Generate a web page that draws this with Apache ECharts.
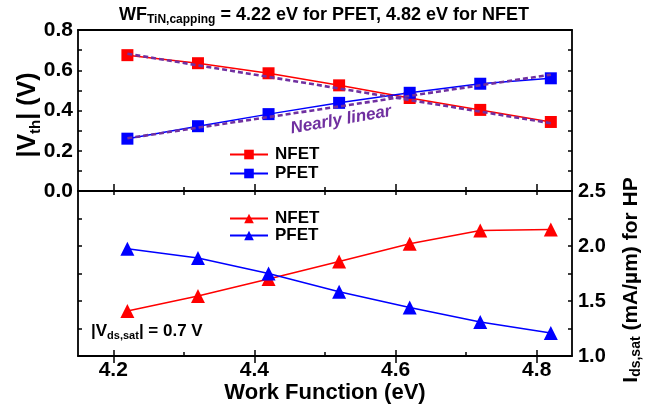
<!DOCTYPE html>
<html>
<head>
<meta charset="utf-8">
<script src="https://cdn.jsdelivr.net/npm/echarts@6/dist/echarts.min.js"></script>
<style>
  html, body { margin: 0; padding: 0; background: #fff; }
  #chart { width: 655px; height: 408px; }
</style>
</head>
<body>
<div id="chart"></div>
<script>
// Work function sweep (eV)
const workFunction = [4.22, 4.32, 4.42, 4.52, 4.62, 4.72, 4.82];

// |Vth| (V)
const vthNfet = [0.675, 0.635, 0.585, 0.525, 0.462, 0.403, 0.343];
const vthPfet = [0.260, 0.322, 0.382, 0.438, 0.488, 0.533, 0.560];

// Linear fits of |Vth| (end points)
const fitWorkFunction = [4.22, 4.82];
const vthNfetFit = [0.682, 0.337];
const vthPfetFit = [0.262, 0.578];

// Ids,sat (mA/um) for HP
const idsNfet = [1.41, 1.545, 1.70, 1.86, 2.02, 2.14, 2.15];
const idsPfet = [1.975, 1.89, 1.75, 1.585, 1.44, 1.31, 1.21];

// Tick labels
const wfTickLabels = [4.2, 4.4, 4.6, 4.8];
const vthTickLabels = [0.0, 0.2, 0.4, 0.6, 0.8];
const idsTickLabels = [1.0, 1.5, 2.0, 2.5];

const FONT = "'Liberation Sans', Arial, Helvetica, sans-serif";
const RED = '#ff0000';
const BLUE = '#0000ff';
const PURPLE = '#7030a0';

const pairs = (xs, ys) => xs.map((x, i) => [x, ys[i]]);
const pick = (list, digits) => v => list.some(t => Math.abs(t - v) < 1e-6) ? v.toFixed(digits) : '';

// Plot frame in pixels and work-function range it spans
const PLOT_LEFT = 78, PLOT_RIGHT = 572;
const WF_MIN = 4.15, WF_MAX = 4.85;
// Tick grids span exactly the first..last tick value so ticks start on a round number
const TICK_MIN = 4.2, TICK_MAX = 4.8;
const pxPerEv = (PLOT_RIGHT - PLOT_LEFT) / (WF_MAX - WF_MIN);
const tickLeft = PLOT_LEFT + (TICK_MIN - WF_MIN) * pxPerEv;
const tickRight = 655 - (PLOT_RIGHT - (WF_MAX - TICK_MAX) * pxPerEv);

const LINE = { show: true, onZero: false, lineStyle: { color: '#000', width: 1.8 } };

function frameX(grid, position) {
  return {
    type: 'value', gridIndex: grid, position: position, min: WF_MIN, max: WF_MAX,
    axisLine: LINE, axisTick: { show: false }, axisLabel: { show: false }, splitLine: { show: false }
  };
}

function tickX(grid, position, interval, len, label) {
  return {
    type: 'value', gridIndex: grid, position: position, min: TICK_MIN, max: TICK_MAX, interval: interval,
    axisLine: { show: false },
    axisTick: { show: true, inside: true, length: len, lineStyle: { color: '#000', width: 1.5 } },
    axisLabel: label ? Object.assign({ show: true, color: '#000', fontFamily: FONT, fontWeight: 'bold' }, label) : { show: false },
    splitLine: { show: false }
  };
}

function valAxis(grid, position, min, max, interval, labels) {
  return {
    type: 'value', gridIndex: grid, position: position,
    min: min, max: max, interval: interval,
    axisLine: LINE,
    axisTick: { show: true, inside: true, length: 4, lineStyle: { color: '#000', width: 1.5 } },
    axisLabel: labels ? Object.assign({ show: true, color: '#000', fontFamily: FONT, fontWeight: 'bold' }, labels) : { show: false },
    splitLine: { show: false }
  };
}

function hiddenY(grid) {
  return { type: 'value', gridIndex: grid, min: 0, max: 1, show: false };
}

function lineSeries(name, xi, yi, ys, color, symbol, size) {
  return {
    name: name, type: 'line', xAxisIndex: xi, yAxisIndex: yi,
    data: pairs(workFunction, ys),
    symbol: symbol, symbolSize: size,
    itemStyle: { color: color },
    lineStyle: { color: color, width: 1.5 },
    emphasis: { disabled: true },
    animation: false
  };
}

function fitSeries(name, ys) {
  return {
    name: name, type: 'line', xAxisIndex: 0, yAxisIndex: 0,
    data: pairs(fitWorkFunction, ys),
    symbol: 'none', z: 5,
    lineStyle: { color: PURPLE, width: 2.6, type: [5, 3] },
    emphasis: { disabled: true },
    animation: false
  };
}

const legendBase = {
  orient: 'vertical', left: 224, itemWidth: 38, itemHeight: 12, itemGap: 2,
  selectedMode: false,
  formatter: n => n.split('|')[0],
  textStyle: { fontFamily: FONT, fontWeight: 'bold', fontSize: 17, color: '#000', padding: [0, 0, 0, 2] }
};

const subRich = (main, sub, lh) => ({
  m: { fontFamily: FONT, fontWeight: 'bold', fontSize: main, lineHeight: lh, fill: '#000', color: '#000' },
  s: { fontFamily: FONT, fontWeight: 'bold', fontSize: sub, lineHeight: sub, verticalAlign: 'bottom', fill: '#000', color: '#000' }
});

const chart = echarts.init(document.getElementById('chart'), null, { renderer: 'canvas' });

chart.setOption({
  animation: false,
  backgroundColor: '#fff',
  grid: [
    { left: PLOT_LEFT, right: 655 - PLOT_RIGHT, top: 30, height: 161 },   // 0: |Vth| panel
    { left: PLOT_LEFT, right: 655 - PLOT_RIGHT, top: 191, height: 165 },  // 1: Ids,sat panel
    { left: tickLeft, right: tickRight, top: 30, height: 161 },           // 2: ticks of panel 0
    { left: tickLeft, right: tickRight, top: 191, height: 165 }           // 3: ticks of panel 1
  ],
  xAxis: [
    frameX(0, 'bottom'),                 // 0
    frameX(0, 'top'),                    // 1
    frameX(1, 'bottom'),                 // 2
    frameX(1, 'top'),                    // 3
    tickX(2, 'bottom', 0.2, 7),          // 4
    tickX(2, 'bottom', 0.1, 4),          // 5
    tickX(3, 'top', 0.2, 7),             // 6
    tickX(3, 'top', 0.1, 4),             // 7
    tickX(3, 'bottom', 0.2, 6, { margin: 4, fontSize: 21, formatter: pick(wfTickLabels, 1) }), // 8
    tickX(3, 'bottom', 0.1, 4)           // 9
  ],
  yAxis: [
    valAxis(0, 'left', 0, 0.8, 0.1, { margin: 5, fontSize: 21, formatter: pick(vthTickLabels, 1) }), // 0
    valAxis(0, 'right', 0, 0.8, 0.1, null),                                                           // 1
    valAxis(1, 'right', 1.0, 2.5, 0.25, { margin: 6, fontSize: 20, formatter: pick(idsTickLabels, 1) }), // 2
    valAxis(1, 'left', 1.0, 2.5, 0.25, null),                                                         // 3
    hiddenY(2),                                                                                        // 4
    hiddenY(3)                                                                                         // 5
  ],
  legend: [
    Object.assign({}, legendBase, { top: 141, data: ['NFET|Vth', 'PFET|Vth'] }),
    Object.assign({}, legendBase, { top: 205, itemGap: 0, data: ['NFET|Ids', 'PFET|Ids'] })
  ],
  series: [
    lineSeries('NFET|Vth', 0, 0, vthNfet, RED, 'rect', 12),
    lineSeries('PFET|Vth', 0, 0, vthPfet, BLUE, 'rect', 12),
    fitSeries('NFET fit', vthNfetFit),
    fitSeries('PFET fit', vthPfetFit),
    lineSeries('NFET|Ids', 2, 2, idsNfet, RED, 'triangle', 14),
    lineSeries('PFET|Ids', 2, 2, idsPfet, BLUE, 'triangle', 14)
  ],
  graphic: [
    {
      type: 'text', x: 119, y: 15,
      style: {
        text: '{m|WF}{s|TiN,capping}{m| = 4.22 eV for PFET, 4.82 eV for NFET}',
        rich: subRich(18, 12, 22), align: 'left', verticalAlign: 'middle'
      }
    },
    {
      type: 'text', x: 341, y: 120, rotation: 10 * Math.PI / 180,
      style: {
        text: 'Nearly linear', fill: PURPLE, fontFamily: FONT, fontWeight: 'bold', fontStyle: 'italic', fontSize: 17,
        align: 'center', verticalAlign: 'middle'
      }
    },
    {
      type: 'text', x: 91, y: 331,
      style: {
        text: '{m||V}{s|ds,sat}{m|| = 0.7 V}',
        rich: subRich(17, 11, 21), align: 'left', verticalAlign: 'middle'
      }
    },
    {
      type: 'text', x: 28, y: 115, rotation: Math.PI / 2,
      style: {
        text: '{m||V}{s|th}{m|| (V)}',
        rich: subRich(25, 15, 30), align: 'center', verticalAlign: 'middle'
      }
    },
    {
      type: 'text', x: 631, y: 280, rotation: Math.PI / 2,
      style: {
        text: '{m|I}{s|ds,sat}{m| (mA/\u00b5m) for HP}',
        rich: subRich(21, 14, 25), align: 'center', verticalAlign: 'middle'
      }
    },
    {
      type: 'text', x: 325, y: 393,
      style: {
        text: 'Work Function (eV)', fill: '#000', fontFamily: FONT, fontWeight: 'bold', fontSize: 22,
        align: 'center', verticalAlign: 'middle'
      }
    }
  ]
});
</script>
</body>
</html>
